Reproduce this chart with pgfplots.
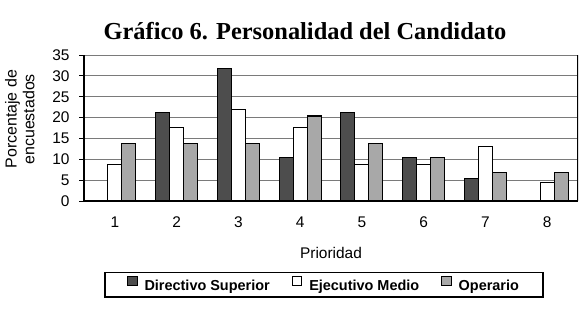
\documentclass[border=0pt]{standalone}
\usepackage{fontspec}
\setmainfont{Liberation Sans}
\newfontfamily\titlefont{Liberation Serif}
\usepackage{pgfplots}
\pgfplotsset{compat=1.18}
\definecolor{dirc}{HTML}{4D4D4D}
\definecolor{opc}{HTML}{A8A8A8}
\definecolor{gridc}{HTML}{7A7A7A}
\begin{document}
\begin{tikzpicture}[x=1bp,y=1bp]
\path[use as bounding box] (0,0) rectangle (580,310);
\node[anchor=base, font=\titlefont\fontsize{24.5}{28}\selectfont\bfseries] at (305,271) {Gráfico 6. Personalidad del Candidato};
\begin{axis}[
  at={(84bp,109bp)}, anchor=south west,
  scale only axis, width=494bp, height=146bp,
  xmin=0.5, xmax=8.5, ymin=0, ymax=35,
  ybar=0pt, bar width=14bp,
  /pgf/number format/assume math mode=true,
  xtick={1,...,8},
  minor xtick={0.5,1.5,...,8.5},
  ytick={0,5,...,35},
  tick align=outside,
  major tick length=5bp, minor tick length=4bp,
  xtick style={draw=none},
  minor tick style={black, line width=0.8bp},
  ytick style={black, line width=0.8bp},
  xticklabel shift=7bp, yticklabel shift=6bp,
  tick label style={font=\fontsize{15.5}{18}\selectfont},
  axis x line*=bottom, axis y line*=left,
  axis line style={black, line width=1.3bp, -},
  ymajorgrids, grid style={gridc, line width=0.9bp},
  xlabel={Prioridad},
  xlabel style={at={(axis description cs:0.5,-0.356)}, anchor=center, font=\fontsize{15.5}{18}\selectfont},
  ylabel={Porcentaje de\\encuestados},
  ylabel style={at={(axis description cs:-0.13,0.56)}, anchor=center, align=center, font=\fontsize{16}{18}\selectfont},
  legend columns=3,
  legend style={at={(axis description cs:0.4858,-0.575)}, anchor=center, draw=black, line width=1.5bp,
    font=\bfseries\fontsize{14.5}{17}\selectfont,
    /tikz/every odd column/.append style={column sep=5bp},
    /tikz/every even column/.append style={column sep=20bp},
    inner xsep=22bp, inner ysep=3bp},
  legend image code/.code={\draw[#1, line width=1bp] (0bp,1bp) rectangle (9.5bp,10bp);},
]
\addplot[fill=dirc, draw=black, line width=1.2bp] coordinates {(1,0) (2,21.3) (3,31.7) (4,10.4) (5,21.3) (6,10.4) (7,5.4) (8,0)};
\addplot[fill=white, draw=black, line width=1.2bp] coordinates {(1,8.8) (2,17.6) (3,22.0) (4,17.6) (5,8.8) (6,8.8) (7,13.0) (8,4.4)};
\addplot[fill=opc, draw=black, line width=1.2bp] coordinates {(1,13.7) (2,13.7) (3,13.7) (4,20.4) (5,13.7) (6,10.4) (7,6.8) (8,6.8)};
\legend{Directivo Superior, Ejecutivo Medio, Operario}
\draw[black, line width=1.3bp] (rel axis cs:1,0) -- (rel axis cs:1,1);
\end{axis}
\end{tikzpicture}
\end{document}
